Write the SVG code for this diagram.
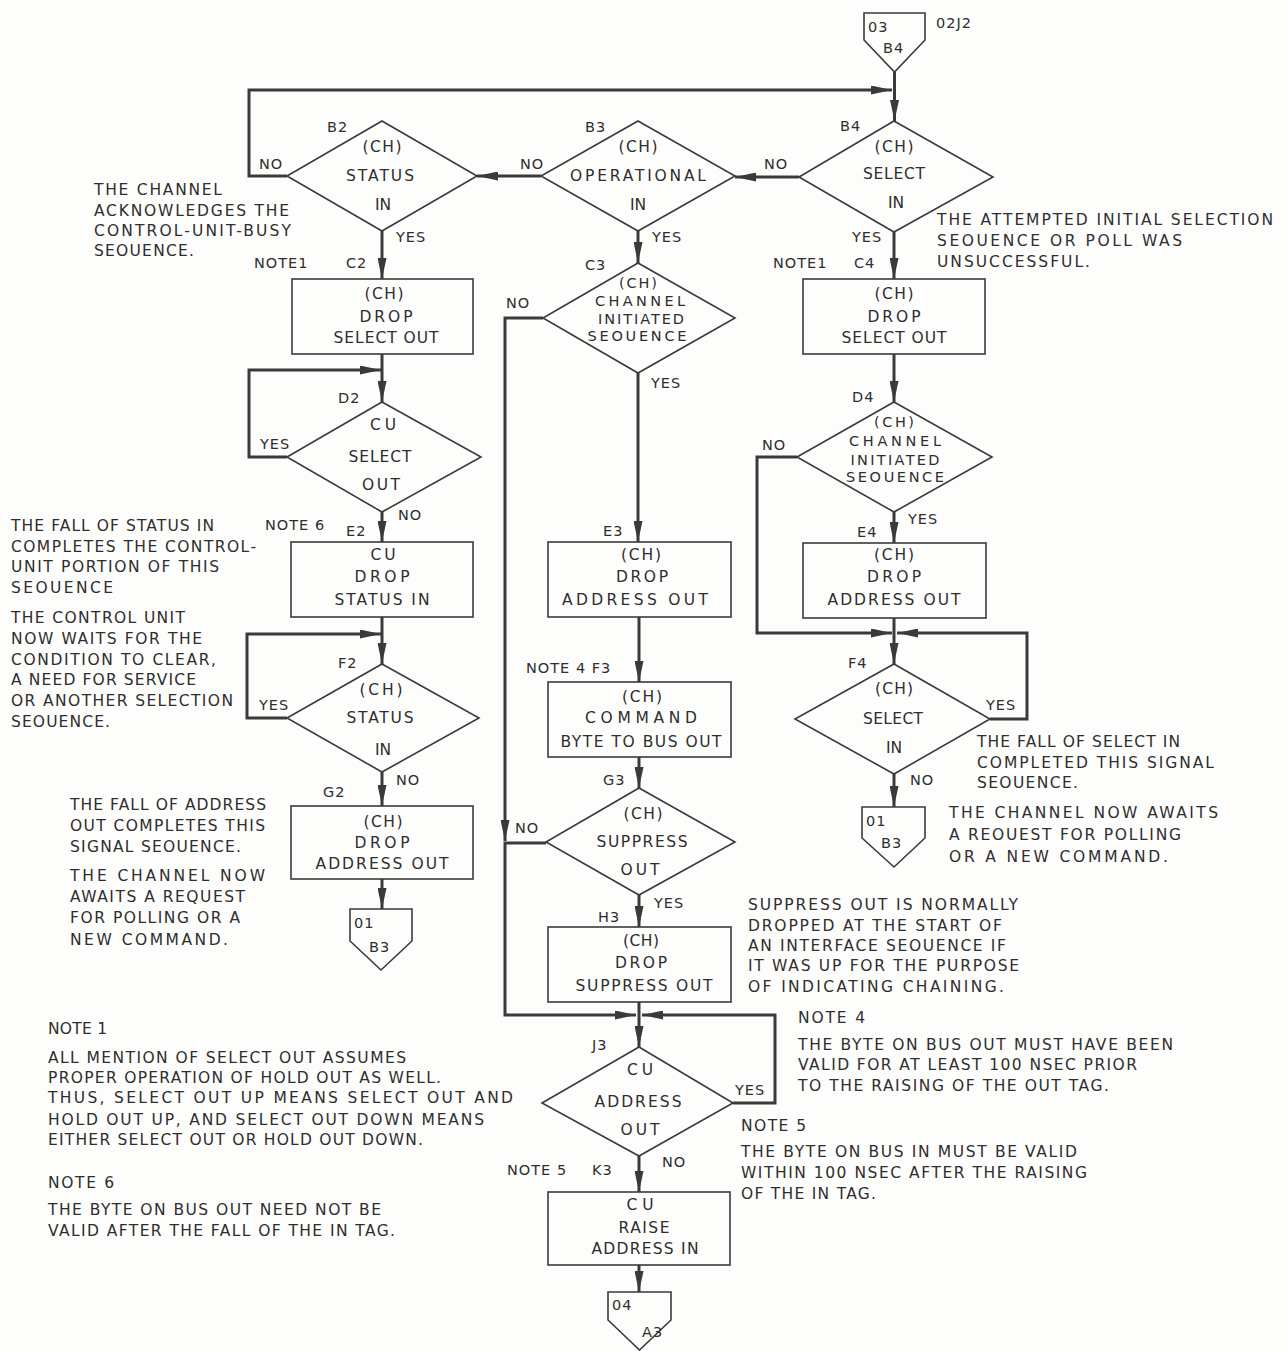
<svg xmlns="http://www.w3.org/2000/svg" width="1287" height="1351" viewBox="0 0 1287 1351">
<defs>
<style>
.bg{fill:#fdfdfc}
.s{fill:none;stroke:#3a3a3a;stroke-width:1.6}
.c{fill:none;stroke:#3a3a3a;stroke-width:3;stroke-linejoin:miter}
text{font-family:"DejaVu Sans","Liberation Sans",Arial,sans-serif;fill:#2e2e2e}
.t{font-size:15.5px;text-anchor:middle}
.tc{font-size:14.5px;text-anchor:middle}
.l{font-size:14.5px;letter-spacing:1px}
.n{font-size:15.5px}
</style>
<marker id="a" markerUnits="userSpaceOnUse" markerWidth="21" markerHeight="9" refX="21" refY="4.5" orient="auto">
<path d="M0,0 L21,4.5 L0,9 Z" fill="#3a3a3a"/>
</marker>
</defs>
<rect class="bg" x="0" y="0" width="1287" height="1351"/>

<g id="connectors">
<path class="c" d="M894.5,72 V121" marker-end="url(#a)"/>
<path class="c" d="M287,176 H249 V90 H892" marker-end="url(#a)"/>
<path class="c" d="M799,177 H735" marker-end="url(#a)"/>
<path class="c" d="M541,176 H477" marker-end="url(#a)"/>
<path class="c" d="M382,231 V279" marker-end="url(#a)"/>
<path class="c" d="M638,231 V263" marker-end="url(#a)"/>
<path class="c" d="M894,232 V279" marker-end="url(#a)"/>
<path class="c" d="M543,318 H505 V841" marker-end="url(#a)"/>
<path class="c" d="M546,843 H505 V1015 H636" marker-end="url(#a)"/>
<path class="c" d="M638,373 V542" marker-end="url(#a)"/>
<path class="c" d="M639,617 V682" marker-end="url(#a)"/>
<path class="c" d="M639,757 V788" marker-end="url(#a)"/>
<path class="c" d="M639,895 V927" marker-end="url(#a)"/>
<path class="c" d="M639,1002 V1047" marker-end="url(#a)"/>
<path class="c" d="M733,1103 H775 V1015 H642" marker-end="url(#a)"/>
<path class="c" d="M639,1156 V1192" marker-end="url(#a)"/>
<path class="c" d="M639,1265 V1292" marker-end="url(#a)"/>
<path class="c" d="M382,354 V402" marker-end="url(#a)"/>
<path class="c" d="M287,457 H249 V370 H381" marker-end="url(#a)"/>
<path class="c" d="M382,512 V542" marker-end="url(#a)"/>
<path class="c" d="M382,617 V664" marker-end="url(#a)"/>
<path class="c" d="M287,718 H247 V634 H381" marker-end="url(#a)"/>
<path class="c" d="M382,772 V806" marker-end="url(#a)"/>
<path class="c" d="M382,879 V909" marker-end="url(#a)"/>
<path class="c" d="M894,354 V402" marker-end="url(#a)"/>
<path class="c" d="M797,457 H757 V633 H892" marker-end="url(#a)"/>
<path class="c" d="M894,512 V543" marker-end="url(#a)"/>
<path class="c" d="M894,618 V664" marker-end="url(#a)"/>
<path class="c" d="M990,719 H1027 V633 H897" marker-end="url(#a)"/>
<path class="c" d="M894,774 V807" marker-end="url(#a)"/>
</g>

<g id="off-03-B4">
<path class="s" d="M864,13 H925 V40 L894.5,72 L864,40 Z"/>
<text class="l" x="868" y="32">03</text>
<text class="l" x="883" y="53">B4</text>
<text class="l" x="936" y="28">02J2</text>
</g>

<g id="B2">
<path class="s" d="M382,121 L477,176 L382,231 L287,176 Z"/>
<text class="l" x="327" y="132">B2</text>
<text class="t" x="382" y="152" textLength="39">(CH)</text>
<text class="t" x="380" y="181" textLength="68">STATUS</text>
<text class="t" x="383" y="210">IN</text>
<text class="l" x="259" y="169">NO</text>
<text class="l" x="396" y="242">YES</text>
</g>

<g id="B3">
<path class="s" d="M638,121 L735,176 L638,231 L541,176 Z"/>
<text class="l" x="585" y="132">B3</text>
<text class="t" x="638" y="152" textLength="39">(CH)</text>
<text class="t" x="638" y="181" textLength="136">OPERATIONAL</text>
<text class="t" x="638" y="210">IN</text>
<text class="l" x="520" y="169">NO</text>
<text class="l" x="652" y="242">YES</text>
</g>

<g id="B4">
<path class="s" d="M894,121 L993,177 L894,232 L799,177 Z"/>
<text class="l" x="840" y="131">B4</text>
<text class="t" x="894" y="152" textLength="39">(CH)</text>
<text class="t" x="894" y="179" textLength="62">SELECT</text>
<text class="t" x="896" y="208">IN</text>
<text class="l" x="764" y="169">NO</text>
<text class="l" x="852" y="242">YES</text>
</g>

<g id="C2">
<rect class="s" x="292" y="279" width="181" height="75"/>
<text class="l" x="254" y="268">NOTE1</text>
<text class="l" x="346" y="268">C2</text>
<text class="t" x="384" y="299" textLength="39">(CH)</text>
<text class="t" x="386" y="322" textLength="53">DROP</text>
<text class="t" x="386" y="343" textLength="105">SELECT OUT</text>
</g>

<g id="C3">
<path class="s" d="M638,263 L735,318 L638,373 L543,318 Z"/>
<text class="l" x="585" y="270">C3</text>
<text class="tc" x="638" y="288" textLength="38">(CH)</text>
<text class="tc" x="640" y="306" textLength="90">CHANNEL</text>
<text class="tc" x="641" y="324" textLength="86">INITIATED</text>
<text class="tc" x="637" y="341" textLength="99">SEOUENCE</text>
<text class="l" x="506" y="308">NO</text>
<text class="l" x="651" y="388">YES</text>
</g>

<g id="C4">
<rect class="s" x="803" y="279" width="182" height="75"/>
<text class="l" x="773" y="268">NOTE1</text>
<text class="l" x="854" y="268">C4</text>
<text class="t" x="894" y="299" textLength="39">(CH)</text>
<text class="t" x="894" y="322" textLength="53">DROP</text>
<text class="t" x="894" y="343" textLength="105">SELECT OUT</text>
</g>

<g id="D2">
<path class="s" d="M382,402 L481,457 L382,512 L287,457 Z"/>
<text class="l" x="338" y="403">D2</text>
<text class="t" x="383" y="430" textLength="26">CU</text>
<text class="t" x="380" y="462" textLength="63">SELECT</text>
<text class="t" x="381" y="490" textLength="38">OUT</text>
<text class="l" x="260" y="449">YES</text>
<text class="l" x="398" y="520">NO</text>
</g>

<g id="D4">
<path class="s" d="M894,402 L992,457 L894,512 L797,457 Z"/>
<text class="l" x="852" y="402">D4</text>
<text class="tc" x="894" y="427" textLength="40">(CH)</text>
<text class="tc" x="895" y="446" textLength="92">CHANNEL</text>
<text class="tc" x="895" y="465" textLength="89">INITIATED</text>
<text class="tc" x="895" y="482" textLength="98">SEOUENCE</text>
<text class="l" x="762" y="450">NO</text>
<text class="l" x="908" y="524">YES</text>
</g>

<g id="E2">
<rect class="s" x="291" y="542" width="182" height="75"/>
<text class="l" x="265" y="530">NOTE 6</text>
<text class="l" x="346" y="536">E2</text>
<text class="t" x="383" y="560" textLength="25">CU</text>
<text class="t" x="382" y="582" textLength="55">DROP</text>
<text class="t" x="382" y="605" textLength="95">STATUS IN</text>
</g>

<g id="E3">
<rect class="s" x="548" y="542" width="183" height="75"/>
<text class="l" x="603" y="536">E3</text>
<text class="t" x="641" y="560" textLength="40">(CH)</text>
<text class="t" x="642" y="582" textLength="52">DROP</text>
<text class="t" x="635" y="605" textLength="146">ADDRESS OUT</text>
</g>

<g id="E4">
<rect class="s" x="803" y="543" width="183" height="75"/>
<text class="l" x="857" y="537">E4</text>
<text class="t" x="894" y="560" textLength="40">(CH)</text>
<text class="t" x="894" y="582" textLength="54">DROP</text>
<text class="t" x="894" y="605" textLength="133">ADDRESS OUT</text>
</g>

<g id="F2">
<path class="s" d="M382,664 L479,718 L382,772 L287,718 Z"/>
<text class="l" x="338" y="668">F2</text>
<text class="t" x="381" y="695" textLength="43">(CH)</text>
<text class="t" x="380" y="723" textLength="67">STATUS</text>
<text class="t" x="383" y="755">IN</text>
<text class="l" x="259" y="710">YES</text>
<text class="l" x="396" y="785">NO</text>
</g>

<g id="F3">
<rect class="s" x="548" y="682" width="183" height="75"/>
<text class="l" x="526" y="673">NOTE 4  F3</text>
<text class="t" x="642" y="702" textLength="40">(CH)</text>
<text class="t" x="641" y="723" textLength="112">COMMAND</text>
<text class="t" x="641" y="747" textLength="161">BYTE TO BUS OUT</text>
</g>

<g id="F4">
<path class="s" d="M894,664 L990,719 L894,774 L795,719 Z"/>
<text class="l" x="848" y="668">F4</text>
<text class="t" x="894" y="694" textLength="38">(CH)</text>
<text class="t" x="893" y="724" textLength="60">SELECT</text>
<text class="t" x="894" y="753">IN</text>
<text class="l" x="986" y="710">YES</text>
<text class="l" x="910" y="785">NO</text>
</g>

<g id="G2">
<rect class="s" x="291" y="806" width="182" height="73"/>
<text class="l" x="323" y="797">G2</text>
<text class="t" x="383" y="827" textLength="39">(CH)</text>
<text class="t" x="382" y="848" textLength="55">DROP</text>
<text class="t" x="382" y="869" textLength="133">ADDRESS OUT</text>
</g>

<g id="off-01-B3-left">
<path class="s" d="M350,909 H412 V941 L381,970 L350,941 Z"/>
<text class="l" x="354" y="928">01</text>
<text class="l" x="369" y="952">B3</text>
</g>

<g id="off-01-B3-right">
<path class="s" d="M862,807 H925 V838 L894,867 L862,838 Z"/>
<text class="l" x="866" y="826">01</text>
<text class="l" x="881" y="848">B3</text>
</g>

<g id="G3">
<path class="s" d="M639,788 L735,842 L639,895 L546,842 Z"/>
<text class="l" x="603" y="785">G3</text>
<text class="t" x="643" y="819" textLength="39">(CH)</text>
<text class="t" x="642" y="847" textLength="91">SUPPRESS</text>
<text class="t" x="640" y="875" textLength="39">OUT</text>
<text class="l" x="515" y="833">NO</text>
<text class="l" x="654" y="908">YES</text>
</g>

<g id="H3">
<rect class="s" x="548" y="927" width="183" height="75"/>
<text class="l" x="598" y="922">H3</text>
<text class="t" x="641" y="946" textLength="36">(CH)</text>
<text class="t" x="641" y="968" textLength="52">DROP</text>
<text class="t" x="644" y="991" textLength="137">SUPPRESS OUT</text>
</g>

<g id="J3">
<path class="s" d="M639,1047 L733,1103 L639,1156 L542,1103 Z"/>
<text class="l" x="592" y="1050">J3</text>
<text class="t" x="640" y="1075" textLength="26">CU</text>
<text class="t" x="638" y="1107" textLength="87">ADDRESS</text>
<text class="t" x="640" y="1135" textLength="39">OUT</text>
<text class="l" x="735" y="1095">YES</text>
<text class="l" x="662" y="1167">NO</text>
</g>

<g id="K3">
<rect class="s" x="548" y="1192" width="182" height="73"/>
<text class="l" x="507" y="1175">NOTE 5</text>
<text class="l" x="592" y="1175">K3</text>
<text class="t" x="640" y="1210" textLength="27">CU</text>
<text class="t" x="644" y="1233" textLength="51">RAISE</text>
<text class="t" x="645" y="1254" textLength="107">ADDRESS IN</text>
</g>

<g id="off-04-A3">
<path class="s" d="M608,1292 H671 V1320 L639.5,1350 L608,1320 Z"/>
<text class="l" x="612" y="1310">04</text>
<text class="l" x="642" y="1337">A3</text>
</g>

<g id="notes">
<text class="n" x="94" y="195" textLength="128">THE CHANNEL</text>
<text class="n" x="94" y="216" textLength="195">ACKNOWLEDGES THE</text>
<text class="n" x="94" y="236" textLength="197">CONTROL-UNIT-BUSY</text>
<text class="n" x="94" y="256" textLength="100">SEOUENCE.</text>

<text class="n" x="937" y="225" textLength="336">THE ATTEMPTED INITIAL SELECTION</text>
<text class="n" x="937" y="246" textLength="245">SEOUENCE OR POLL WAS</text>
<text class="n" x="937" y="267" textLength="153">UNSUCCESSFUL.</text>

<text class="n" x="11" y="531" textLength="203">THE FALL OF STATUS IN</text>
<text class="n" x="11" y="552" textLength="245">COMPLETES THE CONTROL-</text>
<text class="n" x="11" y="572" textLength="208">UNIT PORTION OF THIS</text>
<text class="n" x="11" y="593" textLength="102">SEOUENCE</text>
<text class="n" x="11" y="623" textLength="174">THE CONTROL UNIT</text>
<text class="n" x="11" y="644" textLength="191">NOW WAITS FOR THE</text>
<text class="n" x="11" y="665" textLength="205">CONDITION TO CLEAR,</text>
<text class="n" x="11" y="685" textLength="185">A NEED FOR SERVICE</text>
<text class="n" x="11" y="706" textLength="222">OR ANOTHER SELECTION</text>
<text class="n" x="11" y="727" textLength="99">SEOUENCE.</text>

<text class="n" x="70" y="810" textLength="196">THE FALL OF ADDRESS</text>
<text class="n" x="70" y="831" textLength="195">OUT COMPLETES THIS</text>
<text class="n" x="70" y="852" textLength="171">SIGNAL SEOUENCE.</text>
<text class="n" x="70" y="881" textLength="195">THE CHANNEL NOW</text>
<text class="n" x="70" y="902" textLength="175">AWAITS A REQUEST</text>
<text class="n" x="70" y="923" textLength="170">FOR POLLING OR A</text>
<text class="n" x="70" y="945" textLength="158">NEW COMMAND.</text>

<text class="n" x="977" y="747" textLength="203">THE FALL OF SELECT IN</text>
<text class="n" x="977" y="768" textLength="237">COMPLETED THIS SIGNAL</text>
<text class="n" x="977" y="788" textLength="101">SEOUENCE.</text>
<text class="n" x="949" y="818" textLength="269">THE CHANNEL NOW AWAITS</text>
<text class="n" x="949" y="840" textLength="232">A REOUEST FOR POLLING</text>
<text class="n" x="949" y="862" textLength="219">OR A NEW COMMAND.</text>

<text class="n" x="748" y="910" textLength="270">SUPPRESS OUT IS NORMALLY</text>
<text class="n" x="748" y="931" textLength="254">DROPPED AT THE START OF</text>
<text class="n" x="748" y="951" textLength="258">AN INTERFACE SEOUENCE IF</text>
<text class="n" x="748" y="971" textLength="271">IT WAS UP FOR THE PURPOSE</text>
<text class="n" x="748" y="992" textLength="256">OF INDICATING CHAINING.</text>

<text class="n" x="798" y="1023" textLength="67">NOTE 4</text>
<text class="n" x="798" y="1050" textLength="375">THE BYTE ON BUS OUT MUST HAVE BEEN</text>
<text class="n" x="798" y="1070" textLength="339">VALID FOR AT LEAST 100 NSEC PRIOR</text>
<text class="n" x="798" y="1091" textLength="311">TO THE RAISING OF THE OUT TAG.</text>

<text class="n" x="741" y="1131" textLength="65">NOTE 5</text>
<text class="n" x="741" y="1157" textLength="336">THE BYTE ON BUS IN MUST BE VALID</text>
<text class="n" x="741" y="1178" textLength="346">WITHIN 100 NSEC AFTER THE RAISING</text>
<text class="n" x="741" y="1199" textLength="135">OF THE IN TAG.</text>

<text class="n" x="48" y="1034" textLength="59">NOTE 1</text>
<text class="n" x="48" y="1063" textLength="358">ALL MENTION OF SELECT OUT ASSUMES</text>
<text class="n" x="48" y="1083" textLength="393">PROPER OPERATION OF HOLD OUT AS WELL.</text>
<text class="n" x="48" y="1103" textLength="465">THUS, SELECT OUT UP MEANS SELECT OUT AND</text>
<text class="n" x="48" y="1125" textLength="436">HOLD OUT UP, AND SELECT OUT DOWN MEANS</text>
<text class="n" x="48" y="1145" textLength="375">EITHER SELECT OUT OR HOLD OUT DOWN.</text>
<text class="n" x="48" y="1188" textLength="66">NOTE 6</text>
<text class="n" x="48" y="1215" textLength="333">THE BYTE ON BUS OUT NEED NOT BE</text>
<text class="n" x="48" y="1236" textLength="347">VALID AFTER THE FALL OF THE IN TAG.</text>
</g>
</svg>
